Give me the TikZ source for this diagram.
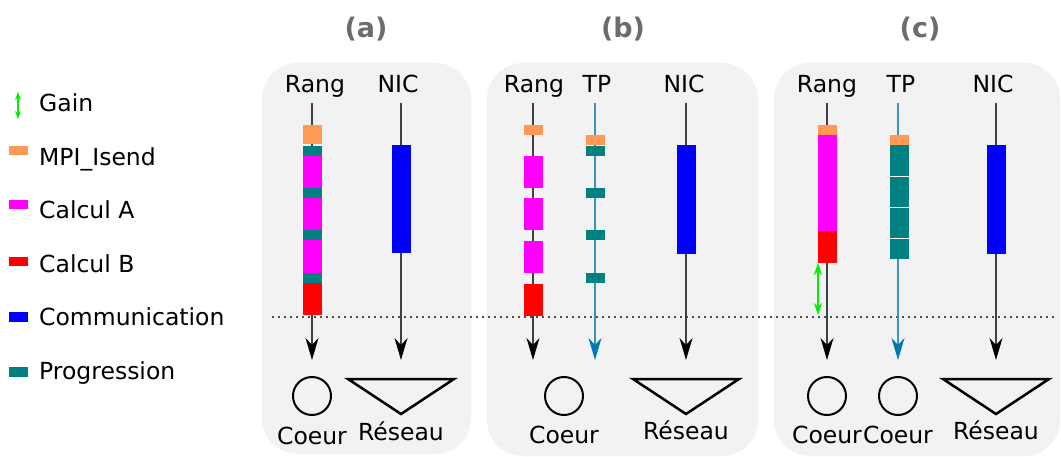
\documentclass[tikz,border=0pt]{standalone}
\usepackage{fontspec}
\setmainfont{DejaVu Sans}
\usetikzlibrary{arrows.meta}
\def\blk[#1](#2:#3:#4){\fill[#1] ({#2-9.5},#3) rectangle ({#2+9.5},#4);}

\definecolor{isend}{RGB}{255,153,85}
\definecolor{calcA}{RGB}{255,0,255}
\definecolor{calcB}{RGB}{255,0,0}
\definecolor{comm}{RGB}{0,0,255}
\definecolor{prog}{RGB}{0,128,128}
\definecolor{gain}{RGB}{0,240,0}
\definecolor{tpblue}{RGB}{60,145,195}
\definecolor{tptip}{RGB}{0,120,180}
\definecolor{panel}{RGB}{242,242,242}
\definecolor{ttlgray}{RGB}{108,108,108}

\tikzset{
  panelbox/.style={fill=panel, rounded corners=36pt},
  ttl/.style={anchor=base, inner sep=0pt, text=ttlgray, font=\fontsize{27}{32}\selectfont\bfseries},
  lbl/.style={anchor=base, inner sep=0pt, font=\fontsize{23.5}{28}\selectfont},
  col/.style={lbl, text depth=0pt, outer sep=10pt},
  leg/.style={lbl, anchor=base west},
  core/.style={circle, draw, line width=2pt, minimum size=38pt, inner sep=0pt},
  net/.style={draw, line width=2.5pt, line join=miter},
  tline/.style={line width=1.4pt, black!75, shorten >=16pt,
    -{Stealth[length=22pt, width=13pt, inset=7pt, black]}},
  tpline/.style={line width=1.4pt, tpblue, shorten >=16pt,
    -{Stealth[length=22pt, width=13pt, inset=7pt, tptip]}},
  dots/.style={line width=1.5pt, black!70, dash pattern=on 1.5pt off 4.5pt},
  gainarr/.style={line width=1.2pt, gain,
    {Stealth[length=8pt, width=6pt]}-{Stealth[length=8pt, width=6pt]}},
}

\begin{document}
\begin{tikzpicture}[x=1pt, y=-1pt]
		%%%%% START %%%%%
		\useasboundingbox (0,0) rectangle (1061,457);
		
		\fill[panelbox] (262,63) rectangle (471,454);
		\fill[panelbox] (487,63) rectangle (758,456);
		\fill[panelbox] (774,63) rectangle (1060,456);
		
		\node[ttl] (ta) at (366,38) {(a)};
		\node[ttl] (tb) at (623,38) {(b)};
		\node[ttl] (tc) at (920,38) {(c)};
		
		\draw[dots] (272,317) -- (1055,317);
		
		% legende
		\coordinate (lgTop) at (18,92);
		\coordinate (lgBot) at (18,119);
		\draw[gainarr] (lgTop) -- (lgBot);
		\fill[isend] (9,146) rectangle (28,155);
		\fill[calcA] (9,200) rectangle (28,209);
		\fill[calcB] (9,257) rectangle (28,266);
		\fill[comm] (9,312) rectangle (28,322);
		\fill[prog] (9,367) rectangle (28,377);
		\node[leg] (lGain) at (39,112) {Gain};
		\node[leg] (lIsend) at (39,166) {MPI\_Isend};
		\node[leg] (lCalcA) at (39,219) {Calcul A};
		\node[leg] (lCalcB) at (39,273) {Calcul B};
		\node[leg] (lComm) at (39,326) {Communication};
		\node[leg] (lProg) at (39,379) {Progression};
		
		% (a)
		\node[col] (rangA) at (315,93) {Rang};
		\node[col] (nicA) at (398,93) {NIC};
		\node[core] (coeurA) at (312,396) {};
		\node[lbl] (coeurAt) at (312,444) {Coeur};
		\draw[net] (348,379) -- (454,379) -- (401,414) -- cycle;
		\coordinate (resA) at (401,379);
		\node[lbl] (resAt) at (401,440) {Réseau};
		\draw[tline] (rangA.south -| coeurA) -- (coeurA.north);
		\draw[tline, shorten >=19pt] (nicA.south -| resA) -- (resA);
		\blk[isend](312:125:144)
		\blk[prog](312:146:156)
		\blk[calcA](312:156:188)
		\blk[prog](312:188:198)
		\blk[calcA](312:198:230)
		\blk[prog](312:230:240)
		\blk[calcA](312:240:273)
		\blk[prog](312:273:283)
		\blk[calcB](312:283:315)
		\blk[comm](401:145:253)
		
		% (b)
		\node[col] (rangB) at (534,93) {Rang};
		\node[col] (tpB) at (597,93) {TP};
		\node[col] (nicB) at (684,93) {NIC};
		\node[core] (coeurB) at (564,396) {};
		\node[lbl] (coeurBt) at (564,443) {Coeur};
		\draw[net] (633,379) -- (739,379) -- (686,414) -- cycle;
		\coordinate (resB) at (686,379);
		\node[lbl] (resBt) at (686,439) {Réseau};
		\coordinate (rangBend) at (533,376);
		\coordinate (tpBend) at (595,376);
		\draw[tline] (rangB.south -| rangBend) -- (rangBend);
		\draw[tpline] (tpB.south -| tpBend) -- (tpBend);
		\draw[tline, shorten >=19pt] (nicB.south -| resB) -- (resB);
		\blk[isend](533:125:135)
		\blk[calcA](533:156:188)
		\blk[calcA](533:198:230)
		\blk[calcA](533:241:273)
		\blk[calcB](533:284:316)
		\blk[isend](595:135:145)
		\blk[prog](595:146:156)
		\blk[prog](595:188:198)
		\blk[prog](595:230:240)
		\blk[prog](595:273:283)
		\blk[comm](686:145:254)
		
		% (c)
		\node[col] (rangC) at (827,93) {Rang};
		\node[col] (tpC) at (901,93) {TP};
		\node[col] (nicC) at (993,93) {NIC};
		\node[core] (coeurC) at (827,396) {};
		\node[core] (coeurD) at (898,396) {};
		\node[lbl] (coeurCt) at (827,443) {Coeur};
		\node[lbl] (coeurDt) at (898,443) {Coeur};
		\draw[net] (943,379) -- (1049,379) -- (996,414) -- cycle;
		\coordinate (resC) at (996,379);
		\node[lbl] (resCt) at (996,439) {Réseau};
		\draw[tline] (rangC.south -| coeurC) -- (coeurC.north);
		\draw[tpline] (tpC.south -| coeurD) -- (coeurD.north);
		\draw[tline, shorten >=19pt] (nicC.south -| resC) -- (resC);
		\blk[isend](827:125:135)
		\blk[calcA](827:135:231)
		\blk[calcB](827:231:263)
		\blk[isend](899:135:145)
		\blk[prog](899:145:259)
		\draw[white, line width=0.8pt] (889.5,176.5) -- (908.5,176.5);
		\draw[white, line width=0.8pt] (889.5,207.5) -- (908.5,207.5);
		\draw[white, line width=0.8pt] (889.5,238.5) -- (908.5,238.5);
		\blk[comm](996:145:254)
		\coordinate (gTop) at (818,263);
		\coordinate (gBot) at (818,315);
		\draw[gainarr, {Stealth[length=12pt, width=8pt]}-{Stealth[length=12pt, width=8pt]}] (gTop) -- (gBot);
		
		%%%%% END %%%%%
	\end{tikzpicture}
\end{document}
